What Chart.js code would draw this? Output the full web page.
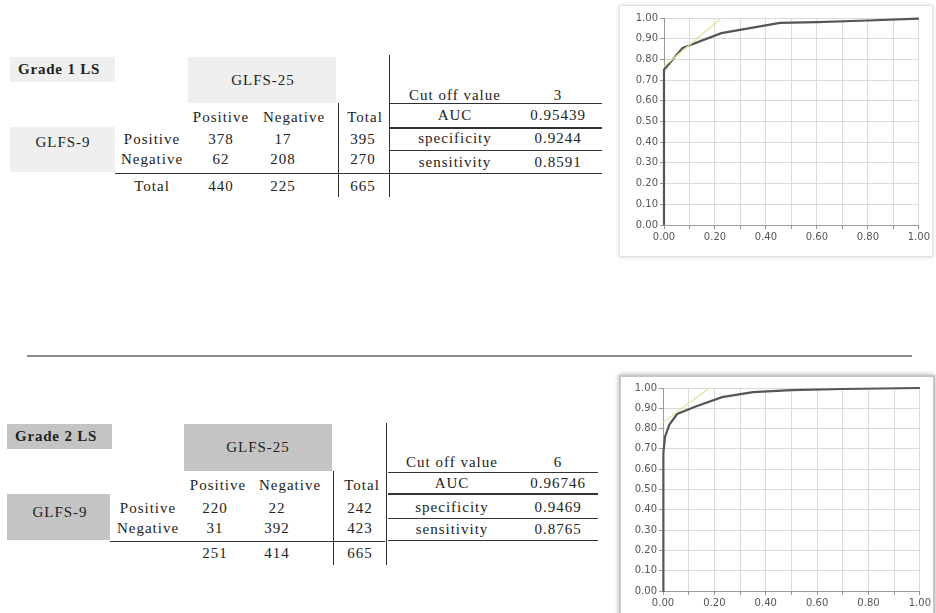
<!DOCTYPE html>
<html lang="en">
<head>
<meta charset="UTF-8">
<title>GLFS-9 vs GLFS-25</title>
<script src="https://cdn.jsdelivr.net/npm/chart.js@4.4.1/dist/chart.umd.min.js"></script>
<style>
  body { margin: 0; width: 936px; height: 613px; overflow: hidden; background: #fff; position: relative;
         font-family: "Liberation Serif", "Times New Roman", serif; font-size: 15px; color: #222; }
  .t { position: absolute; white-space: nowrap; transform: translate(-50%, -50%); letter-spacing: 1px; }
  .l { position: absolute; white-space: nowrap; transform: translateY(-50%); font-weight: bold; letter-spacing: 0.8px; }
  .box, .ln { position: absolute; }
  .frame { position: absolute; background: #fff; letter-spacing: 0; }
  .frame canvas { position: absolute; left: 0; top: 0; letter-spacing: 0; }
</style>
</head>
<body>

<div class="frame" id="f1" style="left:619px; top:5px; width:312px; height:250px; border:1px solid #e2e2e2; box-shadow:0 0 4px rgba(0,0,0,0.15);">
  <canvas id="roc1" width="312" height="250"></canvas>
</div>
<div class="frame" id="f2" style="left:619px; top:375px; width:312px; height:240px; border:2px solid #c6c6c6; box-shadow:0 0 5px rgba(0,0,0,0.35);">
  <canvas id="roc2" width="312" height="236"></canvas>
</div>

<script>
// table data
const colLabels = ['Positive', 'Negative', 'Total'];
const rowLabels = ['Positive', 'Negative'];
const statLabels = ['Cut off value', 'AUC', 'specificity', 'sensitivity'];

const grade1Vals = [[378, 17, 395], [62, 208, 270]];
const grade1Totals = [440, 225, 665];
const grade1Stats = ['3', '0.95439', '0.9244', '0.8591'];

const grade2Vals = [[220, 22, 242], [31, 392, 423]];
const grade2Totals = [251, 414, 665];
const grade2Stats = ['6', '0.96746', '0.9469', '0.8765'];

// ROC curves (1 - specificity, sensitivity)
const roc1X = [0, 0, 0.073, 0.225, 0.455, 0.6, 0.8, 1];
const roc1Y = [0, 0.75, 0.855, 0.927, 0.976, 0.98, 0.988, 0.997];
const tan1X = [0, 0.225];
const tan1Y = [0.766, 1.0];

const roc2X = [0, 0, 0.003, 0.008, 0.025, 0.055, 0.13, 0.23, 0.35, 0.5, 0.7, 1];
const roc2Y = [0, 0.55, 0.68, 0.76, 0.82, 0.872, 0.91, 0.955, 0.98, 0.99, 0.995, 1.0];
const tan2X = [0, 0.18];
const tan2Y = [0.83, 1.0];

function el(cls, css, text) {
  var d = document.createElement('div');
  d.className = cls;
  d.style.cssText = css;
  if (text !== undefined) d.textContent = text;
  document.body.appendChild(d);
  return d;
}
function txt(x, y, s) { el('t', 'left:' + x + 'px;top:' + y + 'px;', s); }
function hline(x, y, w, h, c) { el('ln', 'left:' + x + 'px;top:' + y + 'px;width:' + w + 'px;height:' + (h || 1) + 'px;background:' + (c || '#333') + ';'); }
function vline(x, y, h) { el('ln', 'left:' + x + 'px;top:' + y + 'px;width:1px;height:' + h + 'px;background:#333;'); }
function box(b, c) { el('box', 'left:' + b[0] + 'px;top:' + b[1] + 'px;width:' + b[2] + 'px;height:' + b[3] + 'px;background:' + c + ';'); }

function drawTable(title, vals, totals, stats, g) {
  box(g.gradeBox, g.color);
  box(g.glfs25Box, g.color);
  box(g.glfs9Box, g.color);
  el('l', 'left:' + g.gradeText[0] + 'px;top:' + g.gradeText[1] + 'px;', title);
  txt(g.glfs25Text[0], g.glfs25Text[1], 'GLFS-25');
  txt(g.glfs9Text[0], g.glfs9Text[1], 'GLFS-9');
  for (var i = 0; i < colLabels.length; i++) txt(g.colX[i], g.headY, colLabels[i]);
  for (var r = 0; r < rowLabels.length; r++) {
    txt(g.rowLabelX, g.rowY[r], rowLabels[r]);
    for (var c = 0; c < 3; c++) txt(g.numX[c], g.rowY[r], vals[r][c]);
  }
  if (g.totalLabel) txt(g.rowLabelX, g.totY, 'Total');
  for (var c = 0; c < 3; c++) txt(g.numX[c], g.totY, totals[c]);
  hline(g.hLine[0], g.hLine[1], g.hLine[2]);
  vline(g.vLine[0], g.vLine[1], g.vLine[2]);
  vline(g.bigV[0], g.bigV[1], g.bigV[2]);
  for (var s = 0; s < statLabels.length; s++) {
    txt(g.statX[0], g.statY[s], statLabels[s]);
    txt(g.statX[1], g.statY[s], stats[s]);
    hline(g.statL[0], g.statLines[s], g.statL[1], s === 1 ? 2 : 1);
  }
}

drawTable('Grade 1 LS', grade1Vals, grade1Totals, grade1Stats, {
  color: '#efefef', gradeBox: [10, 57, 105, 25], gradeText: [18, 69],
  glfs25Box: [188, 57, 148, 46], glfs25Text: [263, 80],
  glfs9Box: [10, 127, 105, 45], glfs9Text: [63, 142],
  headY: 117, rowY: [139, 159], totY: 186, totalLabel: true,
  rowLabelX: 152, colX: [221, 294, 365], numX: [221, 283, 363],
  hLine: [115, 173, 275], vLine: [338, 103, 94], bigV: [389, 55, 142],
  statX: [455, 558], statY: [95, 115, 138, 162], statLines: [103, 127, 150, 173], statL: [390, 212]
});

drawTable('Grade 2 LS', grade2Vals, grade2Totals, grade2Stats, {
  color: '#c4c4c4', gradeBox: [7, 424, 105, 25], gradeText: [15, 436],
  glfs25Box: [184, 424, 148, 47], glfs25Text: [258, 447],
  glfs9Box: [7, 494, 103, 46], glfs9Text: [60, 512],
  headY: 485, rowY: [508, 528], totY: 553, totalLabel: false,
  rowLabelX: 148, colX: [218, 290, 362], numX: [215, 277, 360],
  hLine: [110, 541, 275], vLine: [333, 471, 94], bigV: [386, 423, 142],
  statX: [452, 558], statY: [462, 483, 507, 529], statLines: [472, 493, 518, 540], statL: [388, 210]
});

// separator
hline(27, 355, 885, 2, '#8a8a8a');

// ROC charts
function pts(xs, ys) { return xs.map(function (x, i) { return { x: x, y: ys[i] }; }); }

function rocChart(id, xs, ys, tx, ty, yw, xh, pad) {
  var tickFont = { family: 'DejaVu Sans', size: 10 };
  new Chart(document.getElementById(id), {
    type: 'line',
    data: {
      datasets: [
        { data: pts(tx, ty), borderColor: '#dde8a0', borderWidth: 1.3, pointRadius: 0, tension: 0 },
        { data: pts(xs, ys), borderColor: '#555555', borderWidth: 2.2, pointRadius: 0, tension: 0, clip: 4 }
      ]
    },
    options: {
      responsive: false,
      animation: false,
      layout: { padding: pad },
      plugins: { legend: { display: false }, tooltip: { enabled: false } },
      scales: {
        x: {
          type: 'linear', min: 0, max: 1,
          ticks: { stepSize: 0.1, color: '#555', font: tickFont, maxRotation: 0, padding: 2,
                   callback: function (v, i) { return i % 2 === 0 ? v.toFixed(2) : ''; } },
          grid: { color: '#dadada', tickLength: 4, tickColor: '#999' },
          border: { color: '#999' },
          afterFit: function (s) { s.height = xh; }
        },
        y: {
          min: 0, max: 1,
          ticks: { stepSize: 0.1, color: '#555', font: tickFont, padding: 2,
                   callback: function (v) { return v.toFixed(2); } },
          grid: { color: '#dadada', tickLength: 4, tickColor: '#999' },
          border: { color: '#999' },
          afterFit: function (s) { s.width = yw; }
        }
      }
    }
  });
}

rocChart('roc1', roc1X, roc1Y, tan1X, tan1Y, 44, 31, { left: 0, right: 9, top: 12, bottom: 0 });
rocChart('roc2', roc2X, roc2Y, tan2X, tan2Y, 42, 22, { left: 0, right: 13, top: 11, bottom: 0 });
</script>
</body>
</html>
